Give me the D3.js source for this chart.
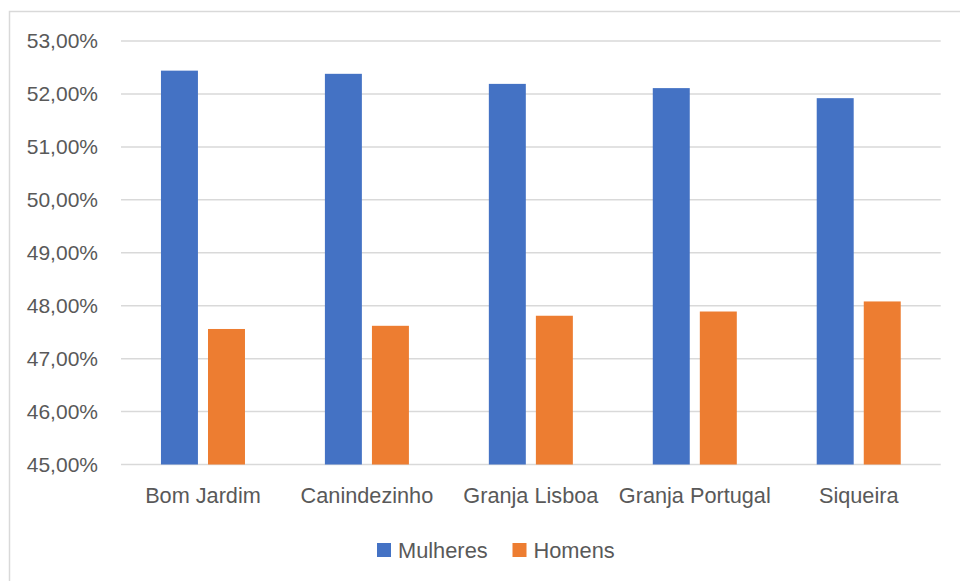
<!DOCTYPE html>
<html><head><meta charset="utf-8">
<script src="https://cdn.jsdelivr.net/npm/d3@7"></script>
<style>
html,body{margin:0;padding:0;background:#fff;}
svg{display:block;font-family:"Liberation Sans",Arial,sans-serif;}
</style></head>
<body>
<svg id="chart" width="960" height="581"></svg>
<script>
const categories = ["Bom Jardim","Canindezinho","Granja Lisboa","Granja Portugal","Siqueira"];
const seriesNames = ["Mulheres","Homens"];
const mulheres = [52.44, 52.38, 52.19, 52.11, 51.92];
const homens = [47.56, 47.62, 47.81, 47.89, 48.08];
const yTicks = [45,46,47,48,49,50,51,52,53];
const colors = ["#4472C4","#ED7D31"];

const svg = d3.select("#chart");
const W = 960, H = 581;
const m = {left:121, right:19.3, top:41, bottom:116.5};
const plotW = W - m.left - m.right, plotH = H - m.top - m.bottom;

svg.append("rect").attr("x",9.5).attr("y",11.5).attr("width",1000).attr("height",1000)
  .attr("fill","#fff").attr("stroke","#d9d9d9").attr("stroke-width",1.5);

const g = svg.append("g").attr("transform",`translate(${m.left},${m.top})`);

const y = d3.scaleLinear().domain([45,53]).range([plotH,0]);
const pi = 0.4875;
const x0 = d3.scaleBand().domain(categories).range([0,plotW]).paddingInner(pi).paddingOuter(pi/2);
const x1 = d3.scaleBand().domain(seriesNames).range([0,x0.bandwidth()]).paddingInner(0.214).paddingOuter(0);

// gridlines
g.append("g").selectAll("line").data(yTicks).join("line")
  .attr("x1",0).attr("x2",plotW)
  .attr("y1",d=>y(d)).attr("y2",d=>y(d))
  .attr("stroke","#d9d9d9").attr("stroke-width",1.5);

// y axis
const yAxis = d3.axisLeft(y).tickValues(yTicks).tickSize(0).tickPadding(23)
  .tickFormat(d=>d3.format(".2f")(d).replace(".",",")+"%");
const ya = g.append("g").call(yAxis);
ya.select(".domain").remove();
ya.selectAll("text").attr("fill","#595959").style("font-size","21px");

const data = categories.map((c,i)=>({cat:c, vals:[mulheres[i],homens[i]]}));
const groups = g.append("g").selectAll("g").data(data).join("g")
  .attr("transform",d=>`translate(${x0(d.cat)},0)`);
groups.selectAll("rect").data(d=>d.vals.map((v,j)=>({s:seriesNames[j],v,j}))).join("rect")
  .attr("x",d=>x1(d.s)).attr("width",x1.bandwidth())
  .attr("y",d=>y(d.v)).attr("height",d=>y(45)-y(d.v))
  .attr("fill",d=>colors[d.j]);

// x axis
const xAxis = d3.axisBottom(x0).tickSize(0).tickPadding(23);
const xa = g.append("g").attr("transform",`translate(0,${plotH})`).call(xAxis);
xa.select(".domain").remove();
xa.selectAll("text").attr("fill","#595959").style("font-size","21.7px");

// legend
const legend = svg.append("g");
const legendItems = [{name:seriesNames[0],x:377},{name:seriesNames[1],x:512.5}];
legendItems.forEach((it,i)=>{
  legend.append("rect").attr("x",it.x).attr("y",543).attr("width",14).attr("height",14).attr("fill",colors[i]);
  legend.append("text").attr("x",it.x+21).attr("y",550).attr("dy","0.35em")
    .attr("fill","#595959").style("font-size","21.8px").text(it.name);
});
</script>
</body></html>
